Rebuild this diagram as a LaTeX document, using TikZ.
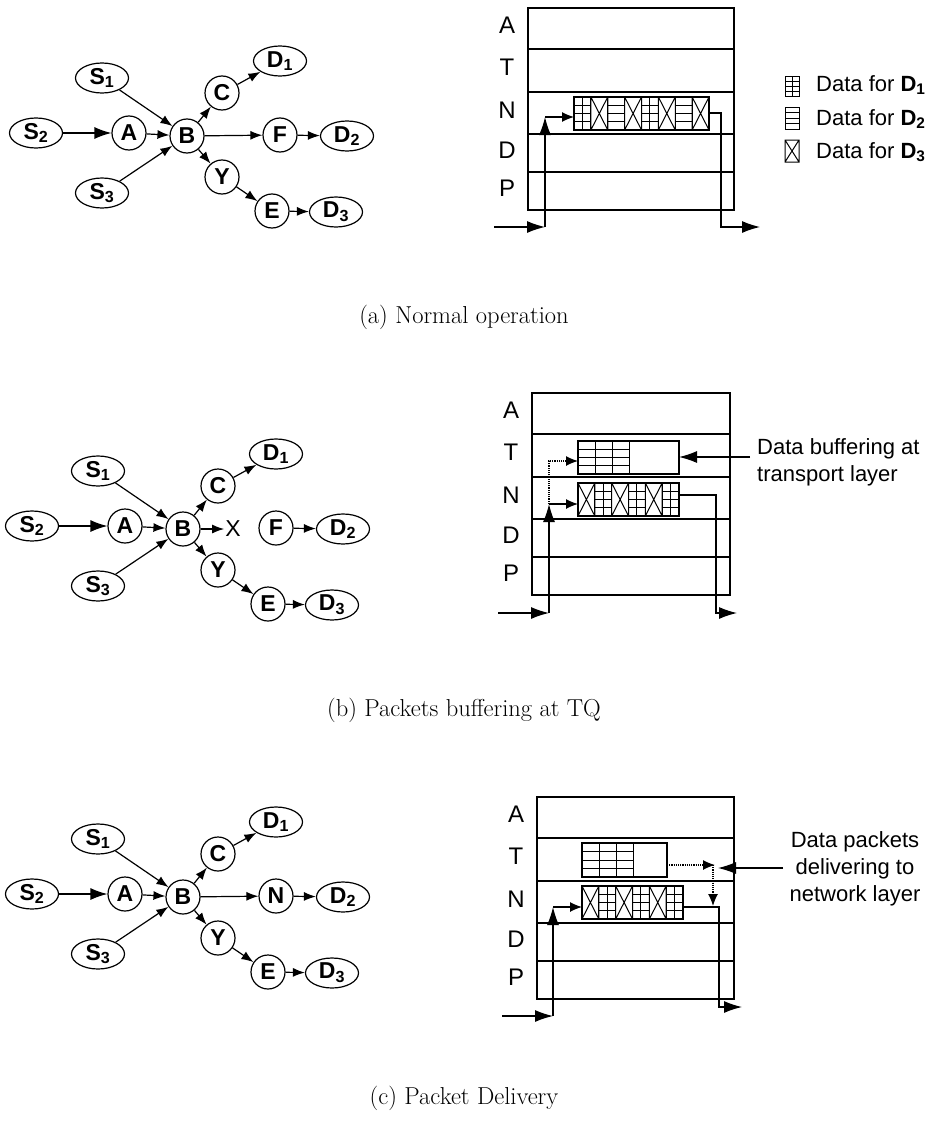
\documentclass[tikz,border=0pt]{standalone}
\usepackage{fontspec}
\newfontfamily\arial{Liberation Sans}
\usetikzlibrary{shapes.geometric,arrows.meta}

\tikzset{
  gnode/.style={draw, line width=1.2pt, inner sep=0pt,
    font=\arial\bfseries\fontsize{23}{26}\selectfont},
  rnd/.style={gnode, circle, minimum size=34pt},
  ell/.style={gnode, ellipse, minimum width=53pt, minimum height=30pt},
  garr/.style={line width=1.2pt, -{Latex[length=12pt,width=9pt]}},
  bigarr/.style={line width=1.2pt, -{Latex[length=17pt,width=12pt]}},
  sarr/.style={line width=1.2pt, -{Latex[length=18pt,width=12pt]}},
  qarr/.style={line width=1.2pt, -{Latex[length=12pt,width=10pt]}},
  dotline/.style={densely dotted, line width=1.2pt},
  layer/.style={draw, line width=1.2pt, inner sep=0pt, outer sep=0pt},
  qbox/.style={draw, line width=1.1pt, inner sep=0pt, outer sep=0pt},
  lbl/.style={font=\arial\fontsize{22}{27}\selectfont, inner sep=0pt},
  stk/.style={font=\arial\fontsize{24}{28}\selectfont, inner sep=0pt},
  capt/.style={font=\fontsize{24.5}{29}\selectfont, inner sep=0pt},
  % queue cells: unit square, scaled to the cell size
  cgrid/.pic={\draw[line width=1pt] (0,0) rectangle (1,1) (0.5,0) -- (0.5,1)
      (0,0.25) -- (1,0.25) (0,0.5) -- (1,0.5) (0,0.75) -- (1,0.75);},
  chl/.pic={\draw[line width=1pt] (0,0) rectangle (1,1)
      (0,0.25) -- (1,0.25) (0,0.5) -- (1,0.5) (0,0.75) -- (1,0.75);},
  cx/.pic={\draw[line width=1pt] (0,0) rectangle (1,1) (0,0) -- (1,1) (0,1) -- (1,0);},
}

% network graph around router B (prefix, with B at the scope origin)
\newcommand\netcore[1]{%
  \node[ell] (#1s1) at (-85,-58) {S\textsubscript{1}};
  \node[ell] (#1s2) at (-151,-3) {S\textsubscript{2}};
  \node[ell] (#1s3) at (-85,57) {S\textsubscript{3}};
  \node[rnd] (#1a) at (-58,-3) {A};
  \node[rnd] (#1b) at (0,0) {B};
  \node[rnd] (#1c) at (35,-43) {C};
  \node[ell] (#1d1) at (93,-75) {D\textsubscript{1}};
  \node[ell] (#1d2) at (160,0) {D\textsubscript{2}};
  \node[rnd] (#1y) at (35,41) {Y};
  \node[rnd] (#1e) at (85,75) {E};
  \node[ell] (#1d3) at (149,76) {D\textsubscript{3}};
  \draw[bigarr] (#1s2) -- (#1a);
  \draw[garr] (#1a) -- (#1b);
  \draw[garr] (#1s1) -- (#1b);
  \draw[garr] (#1s3) -- (#1b);
  \draw[garr] (#1b) -- (#1c);
  \draw[garr] (#1c) -- (#1d1);
  \draw[garr] (#1b) -- (#1y);
  \draw[garr] (#1y) -- (#1e);
  \draw[garr] (#1e) -- (#1d3);
}

% protocol stack: prefix, left edge, top edge, width
\newcommand\protostack[4]{%
  \foreach \nm/\off/\hh in {A/0/41, T/41/43, N/84/42, D/126/38, P/164/38}{
    \node[layer, minimum width=#4, minimum height=\hh, anchor=north west]
      (#1\nm) at (#2,#3+\off) {};
    \node[stk] (#1l\nm) at (#2-21,#3+\off+\hh/2-3) {\nm};
  }%
}

\begin{document}
\begin{tikzpicture}[x=1pt,y=-1pt]
\useasboundingbox (0,0) rectangle (932,1124);

% ---------------- (a) normal operation ----------------
\begin{scope}[shift={(187,136)}]
  \netcore{a}
  \node[rnd] (af) at (93,-1) {F};
  \draw[garr] (ab) -- (af);
  \draw[garr] (af) -- (ad2);
\end{scope}

\protostack{a}{528}{8}{206}
\node[qbox, minimum width=135, minimum height=33, anchor=north west] (aq) at (574,97) {};
\pic[xscale=16.875,yscale=33] at (574,97) {cgrid};
\pic[xscale=16.875,yscale=33] at (590.875,97) {cx};
\pic[xscale=16.875,yscale=33] at (607.75,97) {chl};
\pic[xscale=16.875,yscale=33] at (624.625,97) {cx};
\pic[xscale=16.875,yscale=33] at (641.5,97) {cgrid};
\pic[xscale=16.875,yscale=33] at (658.375,97) {cx};
\pic[xscale=16.875,yscale=33] at (675.25,97) {chl};
\pic[xscale=16.875,yscale=33] at (692.125,97) {cx};

\coordinate (ain0) at (494,227);
\coordinate (ain1) at (545,227);
\coordinate (ain2) at (545,117);
\draw[sarr] (ain0) -- (ain1);
\draw[sarr] (ain1) -- (ain2);
\draw[qarr] (ain2) -- (ain2 -| aq.west);
\coordinate (aout0) at (721,113);
\coordinate (aout1) at (721,227);
\coordinate (aout2) at (760,227);
\draw[sarr] (aout0 -| aq.east) -- (aout0) -- (aout1) -- (aout2);

% legend
\pic[xscale=14,yscale=20] at (785,76) {cgrid};
\pic[xscale=14,yscale=22] at (785,107) {chl};
\pic[xscale=14,yscale=22] at (785,140) {cx};
\node[lbl, anchor=west] (leg1) at (816,85) {Data for \textbf{D\textsubscript{1}}};
\node[lbl, anchor=west] (leg2) at (816,119) {Data for \textbf{D\textsubscript{2}}};
\node[lbl, anchor=west] (leg3) at (816,152) {Data for \textbf{D\textsubscript{3}}};

\node[capt] (capa) at (464,317) {(a) Normal operation};

% ---------------- (b) buffering at the transport queue ----------------
\begin{scope}[shift={(183,529)}]
  \netcore{b}
  \node[font=\arial\fontsize{23}{26}\selectfont, inner sep=1pt] (bx) at (50,0) {X};
  \node[rnd] (bf) at (93,-1) {F};
  \draw[garr] (bb) -- (bx);
  \draw[garr] (bf) -- (bd2);
\end{scope}

\protostack{b}{532}{393}{198}
\node[qbox, minimum width=101, minimum height=33, anchor=north west] (bt) at (578,441) {};
\draw[line width=1pt] (595,441) -- (595,474) (612,441) -- (612,474) (629,441) -- (629,474)
  (578,449.25) -- (629,449.25) (578,457.5) -- (629,457.5) (578,465.75) -- (629,465.75);
\node[qbox, minimum width=101, minimum height=33, anchor=north west] (bq) at (578,483) {};
\pic[xscale=16.83,yscale=33] at (578,483) {cx};
\pic[xscale=16.83,yscale=33] at (594.83,483) {cgrid};
\pic[xscale=16.83,yscale=33] at (611.67,483) {cx};
\pic[xscale=16.83,yscale=33] at (628.5,483) {cgrid};
\pic[xscale=16.83,yscale=33] at (645.33,483) {cx};
\pic[xscale=16.83,yscale=33] at (662.17,483) {cgrid};

\coordinate (bin0) at (498,613);
\coordinate (bin1) at (549,613);
\coordinate (bin2) at (549,504);
\coordinate (bin3) at (549,461);
\draw[sarr] (bin0) -- (bin1);
\draw[sarr] (bin1) -- (bin2);
\draw[qarr] (bin2) -- (bin2 -| bq.west);
\draw[dotline, qarr] (bin2) -- (bin3) -- (bin3 -| bt.west);
\coordinate (bout0) at (716,495);
\coordinate (bout1) at (716,613);
\coordinate (bout2) at (737,613);
\draw[sarr] (bout0 -| bq.east) -- (bout0) -- (bout1) -- (bout2);

\coordinate (bnote) at (750,457);
\draw[sarr] (bnote) -- (bnote -| bt.east);
\node[lbl, align=left, anchor=west] (btext) at (757,462) {Data buffering at\\transport layer};

\node[capt] (capb) at (464,710) {(b) Packets buffering at TQ};

% ---------------- (c) delivery from the transport queue ----------------
\begin{scope}[shift={(183,897)}]
  \netcore{c}
  \node[rnd] (cn) at (93,-1) {N};
  \draw[garr] (cb) -- (cn);
  \draw[garr] (cn) -- (cd2);
\end{scope}

\protostack{c}{537}{797}{197}
\node[qbox, minimum width=85, minimum height=34, anchor=north west] (ct) at (582,843) {};
\draw[line width=1pt] (599,843) -- (599,877) (616,843) -- (616,877) (633,843) -- (633,877)
  (582,851.5) -- (633,851.5) (582,860) -- (633,860) (582,868.5) -- (633,868.5);
\node[qbox, minimum width=101, minimum height=33, anchor=north west] (cq) at (582,886) {};
\pic[xscale=16.83,yscale=33] at (582,886) {cx};
\pic[xscale=16.83,yscale=33] at (598.83,886) {cgrid};
\pic[xscale=16.83,yscale=33] at (615.67,886) {cx};
\pic[xscale=16.83,yscale=33] at (632.5,886) {cgrid};
\pic[xscale=16.83,yscale=33] at (649.33,886) {cx};
\pic[xscale=16.83,yscale=33] at (666.17,886) {cgrid};

\coordinate (cin0) at (502,1016);
\coordinate (cin1) at (553,1016);
\coordinate (cin2) at (553,907);
\draw[sarr] (cin0) -- (cin1);
\draw[sarr] (cin1) -- (cin2);
\draw[qarr] (cin2) -- (cin2 -| cq.west);
\coordinate (cout0) at (719,907);
\coordinate (cout1) at (719,1007);
\coordinate (cout2) at (742,1007);
\draw[sarr] (cout0 -| cq.east) -- (cout0) -- (cout1) -- (cout2);

\coordinate (cd0) at (715,865);
\coordinate (cd1) at (713,865);
\coordinate (cd2) at (713,906);
\draw[dotline, qarr] (ct.east |- cd0) -- (cd0);
\draw[dotline, qarr] (cd1) -- (cd2);

\coordinate (cnote) at (783,868);
\draw[sarr] (cnote) -- (718,868);
\node[lbl, align=center] (ctext) at (855,869) {Data packets\\delivering to\\network layer};

\node[capt] (capc) at (464,1098) {(c) Packet Delivery};
\end{tikzpicture}
\end{document}
